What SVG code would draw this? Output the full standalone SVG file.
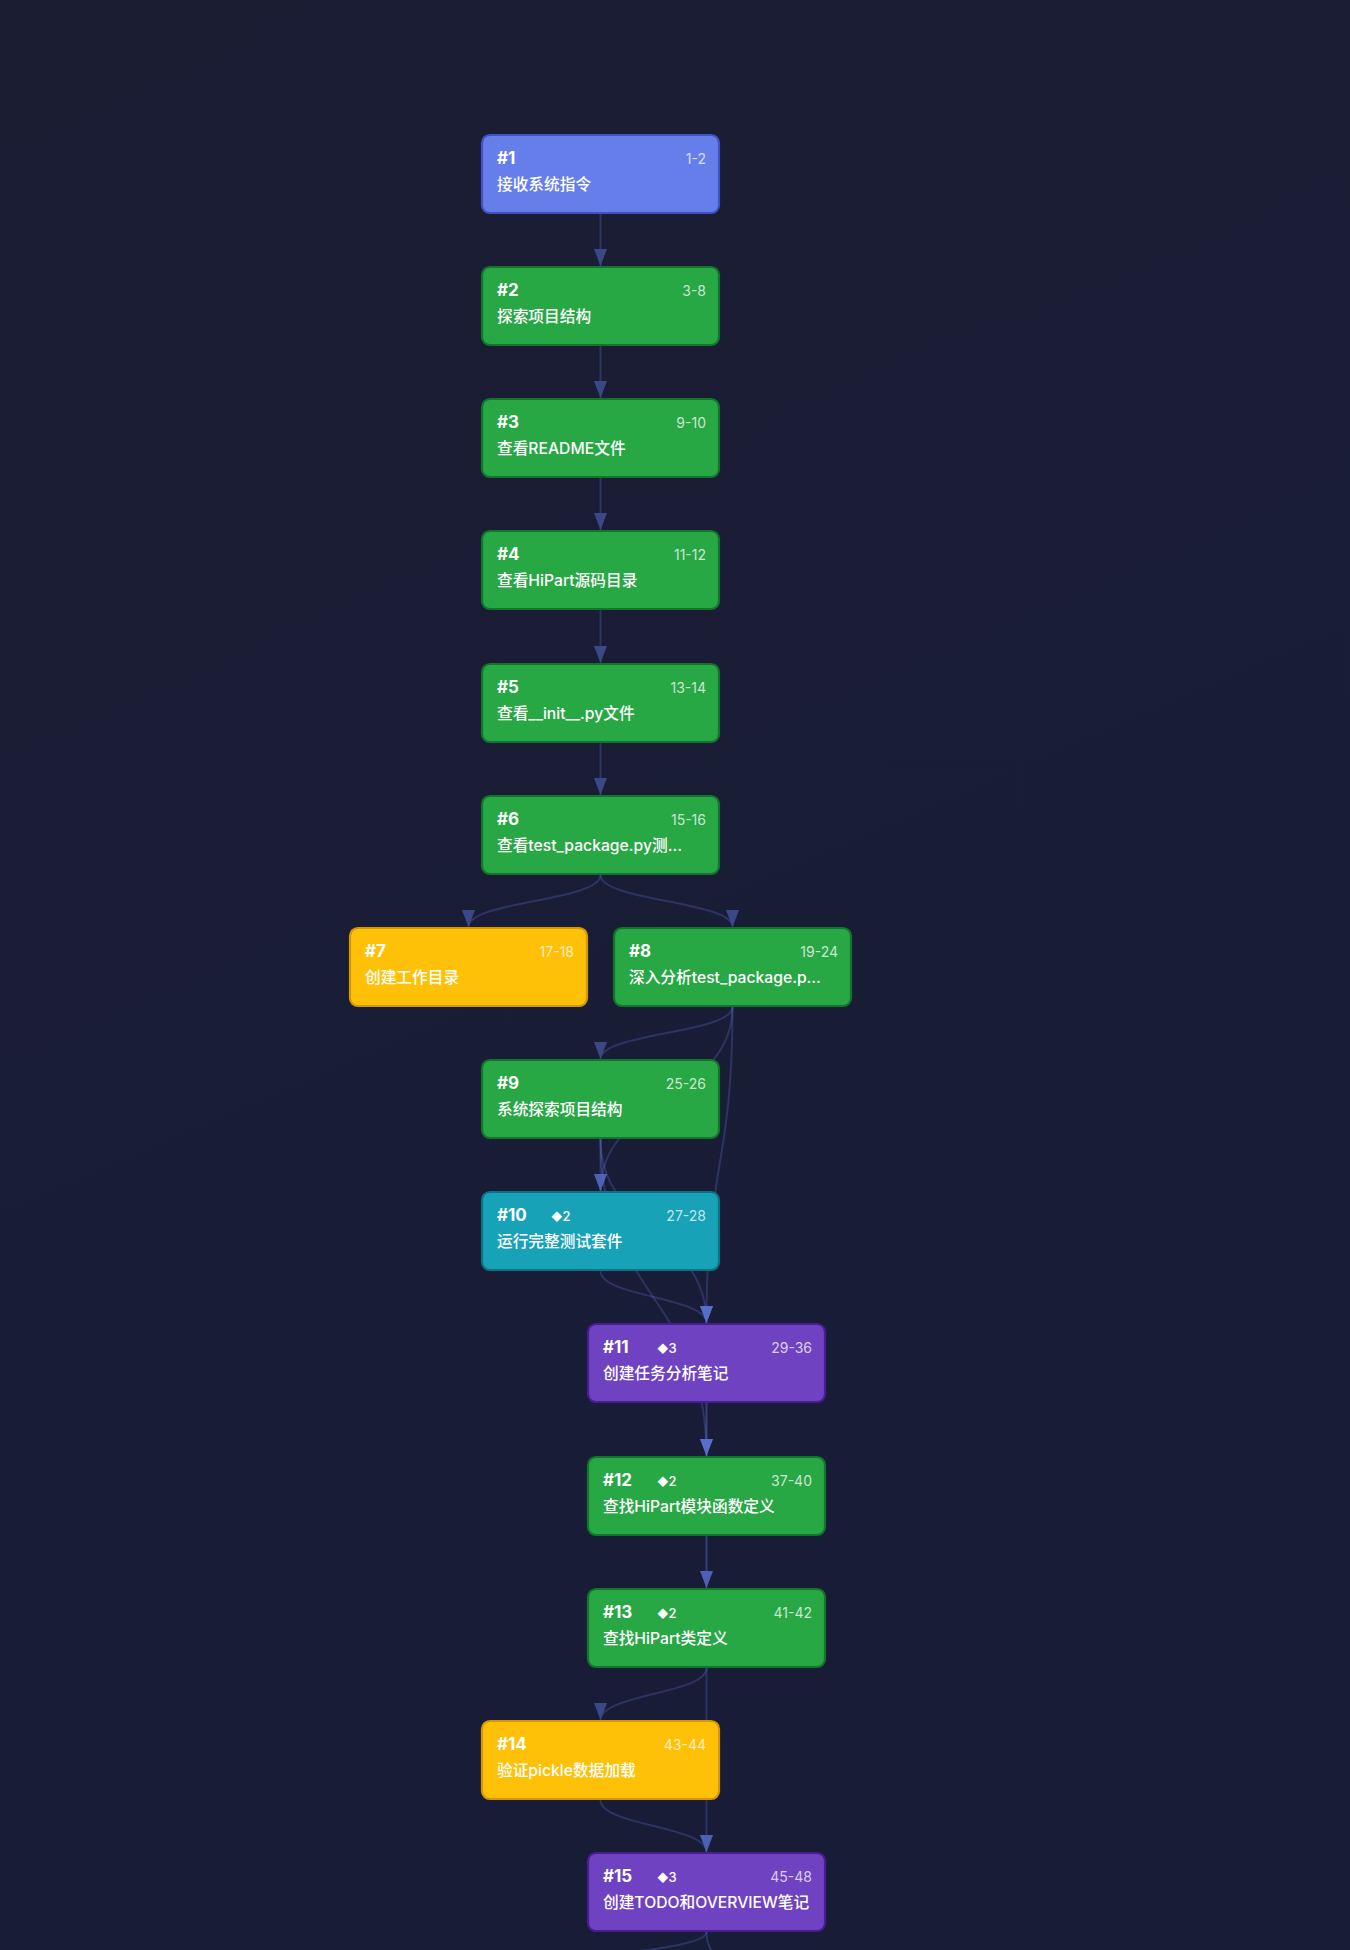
<svg xmlns="http://www.w3.org/2000/svg" width="1350" height="1950" viewBox="0 0 1350 1950">
<defs>
<linearGradient id="bg" x1="0" y1="0" x2="0.3" y2="1">
<stop offset="0" stop-color="#1b1d33"/>
<stop offset="1" stop-color="#181c37"/>
</linearGradient>
<marker id="arr" viewBox="0 -7 17 14" refX="17" refY="0" markerWidth="17" markerHeight="14" markerUnits="userSpaceOnUse" orient="auto" overflow="visible">
<path d="M0,-6.5L17,0L0,6.5Z" fill="#667eea"/>
</marker>
<style>
.edge{fill:none;stroke:#667eea;stroke-opacity:0.55;stroke-width:2;opacity:0.45;marker-end:url(#arr)}
.edge.strong{opacity:0.7}
.node rect{stroke-width:2.2}
.n-indigo rect{fill:#667eea;stroke:#3f53c4}
.n-green rect{fill:#28a745;stroke:#11752a}
.n-yellow rect{fill:#ffc107;stroke:#d69800}
.n-teal rect{fill:#17a2b8;stroke:#0e7285}
.n-purple rect{fill:#6f42c1;stroke:#471d94}
text{font-family:"Inter","Noto Sans CJK SC",sans-serif;fill:#ffffff}
.id{font-size:17px;font-weight:700}
.rng{font-size:14px;fill-opacity:0.75;text-anchor:end}
.lbl{font-size:15.7px;font-weight:500}
.bdg{font-size:13px;font-weight:500}
.dia{font-size:11px}
</style>
</defs>
<rect x="0" y="0" width="1350" height="1950" fill="url(#bg)"/>
<g id="connectors">
<path class="edge" d="M600.5,214 L600.5,266"/>
<path class="edge" d="M600.5,346 L600.5,398"/>
<path class="edge" d="M600.5,478 L600.5,530"/>
<path class="edge" d="M600.5,610 L600.5,663"/>
<path class="edge" d="M600.5,743 L600.5,795"/>
<path class="edge" d="M600.5,875 C600.5,901 468.5,901 468.5,927"/>
<path class="edge" d="M600.5,875 C600.5,901 732.5,901 732.5,927"/>
<path class="edge" d="M732.5,1007 C732.5,1033 600.5,1033 600.5,1059"/>
<path class="edge" d="M732.5,1007 C732.5,1099 600.5,1099 600.5,1191"/>
<path class="edge" d="M732.5,1007 C732.5,1165 706.5,1165 706.5,1323"/>
<path class="edge" d="M600.5,1139 L600.5,1191"/>
<path class="edge" d="M600.5,1139 C600.5,1231 706.5,1231 706.5,1323"/>
<path class="edge" d="M600.5,1139 C600.5,1297.5 706.5,1297.5 706.5,1456"/>
<path class="edge" d="M600.5,1271 C600.5,1297 706.5,1297 706.5,1323"/>
<path class="edge strong" d="M706.5,1403 L706.5,1456"/>
<path class="edge strong" d="M706.5,1536 L706.5,1588"/>
<path class="edge" d="M706.5,1668 C706.5,1694 600.5,1694 600.5,1720"/>
<path class="edge" d="M706.5,1668 L706.5,1852"/>
<path class="edge" d="M600.5,1800 C600.5,1826 706.5,1826 706.5,1852"/>
<path class="edge" d="M706.5,1932 C706.5,1958 440,1958 440,1984"/>
<path class="edge" d="M706.5,1932 C706.5,1958 728,1958 728,1984"/>
</g>
<g id="n1" class="node n-indigo" transform="translate(481,134)">
<rect x="1" y="1" width="237" height="78" rx="8"/>
<text class="id" x="16" y="30">#1</text><text class="rng" x="225" y="30">1-2</text>
<text class="lbl" x="16" y="56">接收系统指令</text>
</g>
<g id="n2" class="node n-green" transform="translate(481,266)">
<rect x="1" y="1" width="237" height="78" rx="8"/>
<text class="id" x="16" y="30">#2</text><text class="rng" x="225" y="30">3-8</text>
<text class="lbl" x="16" y="56">探索项目结构</text>
</g>
<g id="n3" class="node n-green" transform="translate(481,398)">
<rect x="1" y="1" width="237" height="78" rx="8"/>
<text class="id" x="16" y="30">#3</text><text class="rng" x="225" y="30">9-10</text>
<text class="lbl" x="16" y="56">查看README文件</text>
</g>
<g id="n4" class="node n-green" transform="translate(481,530)">
<rect x="1" y="1" width="237" height="78" rx="8"/>
<text class="id" x="16" y="30">#4</text><text class="rng" x="225" y="30">11-12</text>
<text class="lbl" x="16" y="56">查看HiPart源码目录</text>
</g>
<g id="n5" class="node n-green" transform="translate(481,663)">
<rect x="1" y="1" width="237" height="78" rx="8"/>
<text class="id" x="16" y="30">#5</text><text class="rng" x="225" y="30">13-14</text>
<text class="lbl" x="16" y="56">查看__init__.py文件</text>
</g>
<g id="n6" class="node n-green" transform="translate(481,795)">
<rect x="1" y="1" width="237" height="78" rx="8"/>
<text class="id" x="16" y="30">#6</text><text class="rng" x="225" y="30">15-16</text>
<text class="lbl" x="16" y="56">查看test_package.py测...</text>
</g>
<g id="n7" class="node n-yellow" transform="translate(349,927)">
<rect x="1" y="1" width="237" height="78" rx="8"/>
<text class="id" x="16" y="30">#7</text><text class="rng" x="225" y="30">17-18</text>
<text class="lbl" x="16" y="56">创建工作目录</text>
</g>
<g id="n8" class="node n-green" transform="translate(613,927)">
<rect x="1" y="1" width="237" height="78" rx="8"/>
<text class="id" x="16" y="30">#8</text><text class="rng" x="225" y="30">19-24</text>
<text class="lbl" x="16" y="56">深入分析test_package.p...</text>
</g>
<g id="n9" class="node n-green" transform="translate(481,1059)">
<rect x="1" y="1" width="237" height="78" rx="8"/>
<text class="id" x="16" y="30">#9</text><text class="rng" x="225" y="30">25-26</text>
<text class="lbl" x="16" y="56">系统探索项目结构</text>
</g>
<g id="n10" class="node n-teal" transform="translate(481,1191)">
<rect x="1" y="1" width="237" height="78" rx="8"/>
<text class="id" x="16" y="30">#10</text><text class="bdg" x="70" y="30"><tspan class="dia">◆</tspan>2</text><text class="rng" x="225" y="30">27-28</text>
<text class="lbl" x="16" y="56">运行完整测试套件</text>
</g>
<g id="n11" class="node n-purple" transform="translate(587,1323)">
<rect x="1" y="1" width="237" height="78" rx="8"/>
<text class="id" x="16" y="30">#11</text><text class="bdg" x="70" y="30"><tspan class="dia">◆</tspan>3</text><text class="rng" x="225" y="30">29-36</text>
<text class="lbl" x="16" y="56">创建任务分析笔记</text>
</g>
<g id="n12" class="node n-green" transform="translate(587,1456)">
<rect x="1" y="1" width="237" height="78" rx="8"/>
<text class="id" x="16" y="30">#12</text><text class="bdg" x="70" y="30"><tspan class="dia">◆</tspan>2</text><text class="rng" x="225" y="30">37-40</text>
<text class="lbl" x="16" y="56">查找HiPart模块函数定义</text>
</g>
<g id="n13" class="node n-green" transform="translate(587,1588)">
<rect x="1" y="1" width="237" height="78" rx="8"/>
<text class="id" x="16" y="30">#13</text><text class="bdg" x="70" y="30"><tspan class="dia">◆</tspan>2</text><text class="rng" x="225" y="30">41-42</text>
<text class="lbl" x="16" y="56">查找HiPart类定义</text>
</g>
<g id="n14" class="node n-yellow" transform="translate(481,1720)">
<rect x="1" y="1" width="237" height="78" rx="8"/>
<text class="id" x="16" y="30">#14</text><text class="rng" x="225" y="30">43-44</text>
<text class="lbl" x="16" y="56">验证pickle数据加载</text>
</g>
<g id="n15" class="node n-purple" transform="translate(587,1852)">
<rect x="1" y="1" width="237" height="78" rx="8"/>
<text class="id" x="16" y="30">#15</text><text class="bdg" x="70" y="30"><tspan class="dia">◆</tspan>3</text><text class="rng" x="225" y="30">45-48</text>
<text class="lbl" x="16" y="56">创建TODO和OVERVIEW笔记</text>
</g>
</svg>
